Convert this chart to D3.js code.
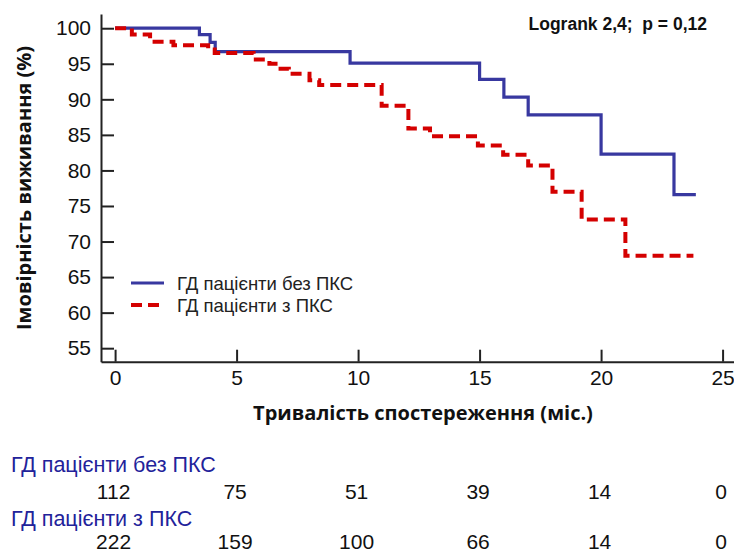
<!DOCTYPE html>
<html>
<head>
<meta charset="utf-8">
<script src="https://cdn.jsdelivr.net/npm/d3@7"></script>
<style>
  body { margin: 0; background: #fff; }
  svg { display: block; font-family: "Liberation Sans", Arial, sans-serif; }
</style>
</head>
<body>
<svg id="chart" width="734" height="554"></svg>
<script>
// Kaplan-Meier steps: [month, survival %]
const noPksSteps = [[0, 100], [3.47, 99.1], [3.91, 98.0], [4.12, 96.7], [9.67, 95.1], [15.0, 92.8],
  [16.0, 90.3], [17.0, 87.8], [20.0, 82.3], [23.0, 76.6]];
const noPksEnd = 23.9;
const pksSteps = [[0, 100], [0.69, 99.1], [1.44, 98.1], [2.4, 97.6], [3.83, 97.0], [4.1, 96.5],
  [5.7, 95.6], [6.35, 95.0], [6.7, 94.3], [7.15, 93.6], [8.0, 92.7], [8.4, 92.0], [10.97, 89.1],
  [12.07, 85.9], [12.96, 84.8], [14.93, 83.5], [15.97, 82.2], [17.0, 80.7], [18.0, 77.0],
  [19.2, 73.1], [21.0, 68.0]];
const pksEnd = 23.8;

const xTicks = [0, 5, 10, 15, 20, 25];
const yTicks = [55, 60, 65, 70, 75, 80, 85, 90, 95, 100];

// number at risk
const seriesNames = ["ГД пацієнти без ПКС", "ГД пацієнти з ПКС"];
const atRiskNoPks = [112, 75, 51, 39, 14, 0];
const atRiskPks = [222, 159, 100, 66, 14, 0];

const blue = "#3838a0";
const red = "#d40000";

const svg = d3.select("#chart");

const x = d3.scaleLinear().domain([-0.58, 25.47]).range([101, 734]);
const y = d3.scaleLinear().domain([53.1, 102]).range([361.7, 14]);

// axes, ticks pointing inward
const xAxis = svg.append("g")
  .attr("transform", `translate(0,${y.range()[0]})`)
  .call(d3.axisBottom(x).tickValues(xTicks).tickSize(-12).tickSizeOuter(0).tickPadding(8));
const yAxis = svg.append("g")
  .attr("transform", `translate(${x.range()[0]},0)`)
  .call(d3.axisLeft(y).tickValues(yTicks).tickSize(-13).tickSizeOuter(0).tickPadding(10));

[xAxis, yAxis].forEach(g => {
  g.selectAll("path, line").attr("stroke", "#222").attr("stroke-width", 2);
  g.selectAll("text").attr("font-size", "21px").attr("fill", "#111")
    .attr("font-family", "Liberation Sans, Arial, sans-serif");
});

// survival curves
function stepPath(steps, end) {
  const pts = steps.concat([[end, steps[steps.length - 1][1]]]);
  return d3.line().x(d => x(d[0])).y(d => y(d[1])).curve(d3.curveStepAfter)(pts);
}

svg.append("path")
  .attr("d", stepPath(noPksSteps, noPksEnd))
  .attr("fill", "none")
  .attr("stroke", blue)
  .attr("stroke-width", 3.2);

svg.append("path")
  .attr("d", stepPath(pksSteps, pksEnd))
  .attr("fill", "none")
  .attr("stroke", red)
  .attr("stroke-width", 4)
  .attr("stroke-dasharray", "11,6");

// legend
const legend = svg.append("g");
[{ name: seriesNames[0], color: blue, dash: null, w: 3.2 },
 { name: seriesNames[1], color: red, dash: "11,6", w: 4 }].forEach((s, i) => {
  const ly = 283 + i * 22;
  legend.append("line")
    .attr("x1", 131).attr("x2", 164).attr("y1", ly).attr("y2", ly)
    .attr("stroke", s.color).attr("stroke-width", s.w)
    .attr("stroke-dasharray", s.dash);
  legend.append("text")
    .attr("x", 177).attr("y", ly + 6.5)
    .attr("font-size", "18.5px").attr("fill", "#222")
    .text(s.name);
});

// logrank note
svg.append("text")
  .attr("x", 707).attr("y", 30)
  .attr("text-anchor", "end")
  .attr("font-size", "17.5px").attr("font-weight", "bold").attr("fill", "#111")
  .style("white-space", "pre")
  .text("Logrank 2,4;  p = 0,12");

// axis titles
svg.append("text")
  .attr("x", 423).attr("y", 420)
  .attr("text-anchor", "middle")
  .attr("font-family", "Open Sans, sans-serif")
  .attr("font-size", "20px").attr("font-weight", "bold").attr("fill", "#111")
  .text("Тривалість спостереження (міс.)");

svg.append("text")
  .attr("transform", "translate(31,188) rotate(-90)")
  .attr("text-anchor", "middle")
  .attr("font-family", "Open Sans, sans-serif")
  .attr("font-size", "20px").attr("font-weight", "bold").attr("fill", "#111")
  .text("Імовірність виживання (%)");

// number-at-risk table
const rows = [atRiskNoPks, atRiskPks];
rows.forEach((vals, i) => {
  const top = 465 + i * 54;
  svg.append("text")
    .attr("x", 11).attr("y", top + 7)
    .attr("font-size", "21.5px").attr("fill", "#22229a")
    .text(seriesNames[i]);
  svg.append("g").selectAll("text")
    .data(vals)
    .join("text")
    .attr("x", (d, j) => x(xTicks[j]) - 1.5)
    .attr("y", top + 34 - i * 4)
    .attr("text-anchor", "middle")
    .attr("font-size", "21px").attr("fill", "#111")
    .text(d => d);
});
</script>
</body>
</html>
